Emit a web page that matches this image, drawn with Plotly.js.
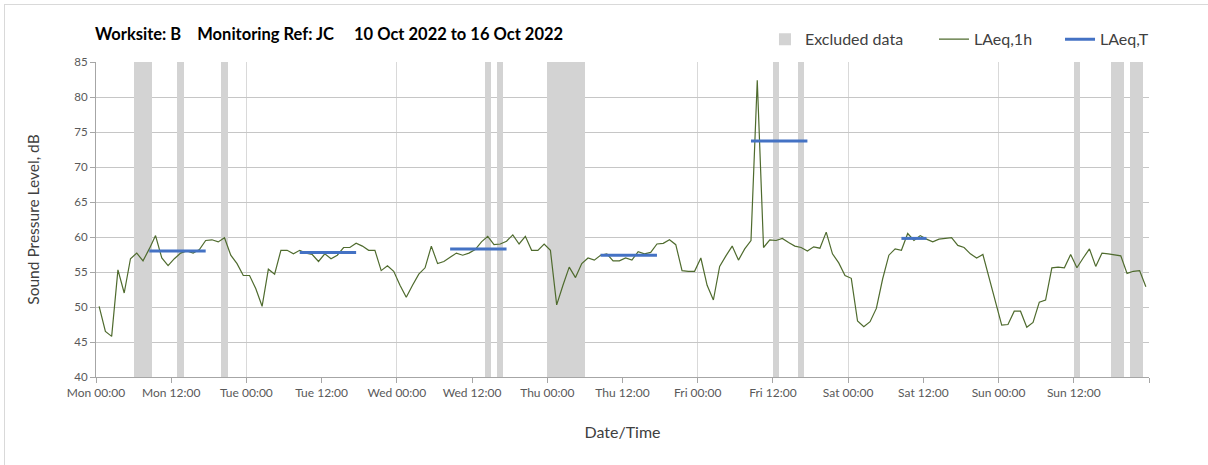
<!DOCTYPE html>
<html>
<head>
<meta charset="utf-8">
<script src="https://cdn.plot.ly/plotly-3.0.1.min.js"></script>
<style>
  html, body { margin: 0; padding: 0; background: #ffffff; }
  #chart { width: 1208px; height: 465px; position: absolute; left: 0; top: 0; }
  #frame { position: absolute; left: 4px; top: 4px; width: 1220px; height: 480px;
           border: 1px solid #d9d9d9; pointer-events: none; }
</style>
</head>
<body>
<div id="chart"></div>
<div id="frame"></div>
<script>
// ---------------- DATA ----------------
const startDate = '2022-10-10 00:00';
const endDate   = '2022-10-17 00:00';

// Hourly LAeq,1h values (Mon 00:00 hour .. Sun 23:00 hour), dB
const laeq1h = [
  50.1, 46.5, 45.8, 55.3, 52.0, 56.9, 57.7, 56.6, 58.3, 60.2,
  57.0, 55.9, 56.9, 57.7, 58.0, 57.7, 58.2, 59.5, 59.6, 59.3,
  59.9, 57.4, 56.2, 54.5, 54.5, 52.6, 50.1, 55.4, 54.7, 58.1,
  58.1, 57.6, 58.1, 57.7, 57.5, 56.5, 57.6, 56.9, 57.4, 58.5,
  58.5, 59.1, 58.7, 58.1, 58.1, 55.2, 55.9, 55.1, 53.1, 51.4,
  53.1, 54.7, 55.6, 58.7, 56.2, 56.5, 57.1, 57.7, 57.4, 57.7,
  58.2, 59.3, 60.1, 58.9, 59.0, 59.4, 60.3, 59.0, 60.1, 58.1,
  58.1, 59.0, 58.1, 50.3, 53.1, 55.7, 54.2, 56.2, 57.0, 56.7,
  57.4, 57.6, 56.6, 56.6, 57.0, 56.7, 57.9, 57.6, 57.8, 59.0,
  59.1, 59.6, 58.9, 55.2, 55.1, 55.1, 57.0, 53.1, 51.0, 55.8,
  57.3, 58.7, 56.7, 58.3, 59.5, 82.4, 58.5, 59.6, 59.5, 59.8,
  59.2, 58.7, 58.5, 58.0, 58.6, 58.4, 60.7, 57.6, 56.3, 54.5,
  54.1, 48.0, 47.2, 47.9, 49.8, 54.0, 57.4, 58.3, 58.1, 60.5,
  59.5, 60.2, 59.7, 59.3, 59.7, 59.8, 59.9, 58.8, 58.5, 57.6,
  57.0, 57.5, 54.0, 50.7, 47.4, 47.5, 49.4, 49.4, 47.1, 47.8,
  50.7, 51.0, 55.6, 55.7, 55.6, 57.5, 55.6, 57.0, 58.3, 55.8,
  57.7, 57.6, 57.5, 57.3, 54.8, 55.1, 55.2, 52.9
];

// LAeq,T periods (drawn across the hourly points of each period)
const periodStart = ['2022-10-10 08:30', '2022-10-11 08:30', '2022-10-12 08:30',
                     '2022-10-13 08:30', '2022-10-14 08:30', '2022-10-15 08:30'];
const periodEnd   = ['2022-10-10 17:30', '2022-10-11 17:30', '2022-10-12 17:30',
                     '2022-10-13 17:30', '2022-10-14 17:30', '2022-10-15 12:30'];
const laeqT       = [58.0, 57.8, 58.3, 57.4, 73.7, 59.8];

// Excluded data periods
const excludedStart = ['2022-10-10 06:00', '2022-10-10 13:00', '2022-10-10 20:00',
                       '2022-10-12 14:00', '2022-10-12 16:00', '2022-10-13 00:00',
                       '2022-10-14 12:00', '2022-10-14 16:00', '2022-10-16 12:00',
                       '2022-10-16 18:00', '2022-10-16 21:00'];
const excludedEnd   = ['2022-10-10 09:00', '2022-10-10 14:00', '2022-10-10 21:00',
                       '2022-10-12 15:00', '2022-10-12 17:00', '2022-10-13 06:00',
                       '2022-10-14 13:00', '2022-10-14 17:00', '2022-10-16 13:00',
                       '2022-10-16 20:00', '2022-10-16 23:00'];

// X tick labels every 12 hours (last tick at the axis end has no label)
const xTickLabels = ['Mon 00:00', 'Mon 12:00', 'Tue 00:00', 'Tue 12:00', 'Wed 00:00',
                     'Wed 12:00', 'Thu 00:00', 'Thu 12:00', 'Fri 00:00', 'Fri 12:00',
                     'Sat 00:00', 'Sat 12:00', 'Sun 00:00', 'Sun 12:00', ''];

const yMin = 40, yMax = 85;

// ---------------- BUILD ----------------
const HOUR = 3600000;
const toMs = s => Date.parse(s.replace(' ', 'T') + ':00Z');
const t0 = toMs(startDate), t1 = toMs(endDate);

const hourX = laeq1h.map((_, i) => t0 + (i + 0.5) * HOUR);

const exX = [], exW = [], exY = [];
excludedStart.forEach((s, i) => {
  const a = toMs(s), b = toMs(excludedEnd[i]);
  exX.push((a + b) / 2); exW.push(b - a); exY.push(yMax - yMin);
});

const tX = [], tY = [];
periodStart.forEach((s, i) => {
  tX.push(toMs(s), toMs(periodEnd[i]), null);
  tY.push(laeqT[i], laeqT[i], null);
});

const tickVals = xTickLabels.map((_, i) => t0 + i * 12 * HOUR);

const FONT = 'Lato, "Open Sans", sans-serif';
const legendFont = { family: FONT, size: 16, color: '#404040' };

const traces = [
  {
    type: 'bar', name: 'Excluded data', x: exX, y: exY, width: exW, base: yMin,
    marker: { color: '#d3d3d3', line: { width: 0 } },
    xaxis: 'x', yaxis: 'y', hoverinfo: 'skip', legend: 'legend'
  },
  {
    type: 'scatter', mode: 'lines', name: 'LAeq,1h', x: hourX, y: laeq1h,
    line: { color: '#4f6b2e', width: 1.2 },
    xaxis: 'x', yaxis: 'y', legend: 'legend2'
  },
  {
    type: 'scatter', mode: 'lines', name: 'LAeq,T', x: tX, y: tY,
    line: { color: '#4472c4', width: 3 }, connectgaps: false,
    xaxis: 'x2', yaxis: 'y', legend: 'legend3'
  }
];

const legBase = { orientation: 'h', xanchor: 'left', y: 1.072, yanchor: 'middle',
                  font: legendFont, bgcolor: 'rgba(0,0,0,0)' };

const layout = {
  width: 1208, height: 465,
  margin: { l: 96, r: 59, t: 62, b: 88 },
  paper_bgcolor: 'rgba(0,0,0,0)', plot_bgcolor: '#ffffff',
  font: { family: FONT, color: '#404040' },
  title: {
    text: 'Worksite: B\u00a0\u00a0\u00a0\u00a0Monitoring Ref: JC\u00a0\u00a0\u00a0\u00a0\u00a010 Oct 2022 to 16 Oct 2022',
    font: { family: FONT, size: 16.5, color: '#000000', weight: 'bold' },
    x: 95 / 1208, xref: 'container', xanchor: 'left',
    y: 1 - 34 / 465, yref: 'container', yanchor: 'middle'
  },
  bargap: 0,
  showlegend: true,
  legend:  Object.assign({}, legBase, { x: 0.6353 }),
  legend2: Object.assign({}, legBase, { x: 0.7958 }),
  legend3: Object.assign({}, legBase, { x: 0.9155 }),
  xaxis: {
    type: 'date', range: [t0, t1], fixedrange: true,
    tick0: t0, dtick: 24 * HOUR, tickmode: 'linear',
    showgrid: true, gridcolor: '#d9d9d9', gridwidth: 1,
    showticklabels: false, ticks: '', zeroline: false,
    showline: true, linecolor: '#a6a6a6', linewidth: 1
  },
  xaxis2: {
    type: 'date', overlaying: 'x', side: 'bottom', anchor: 'y',
    range: [t0, t1], fixedrange: true,
    tickmode: 'array', tickvals: tickVals, ticktext: xTickLabels,
    ticks: 'outside', ticklen: 5, tickcolor: '#a6a6a6', tickwidth: 1,
    showgrid: false, zeroline: false, showline: false,
    tickfont: { family: FONT, size: 12, color: '#595959' },
    title: { text: 'Date/Time', font: { family: FONT, size: 16, color: '#404040' }, standoff: 27 }
  },
  yaxis: {
    range: [yMin, yMax], dtick: 5, tick0: 40, fixedrange: true,
    showgrid: true, gridcolor: '#c6c6c6', gridwidth: 1,
    ticks: 'outside', ticklen: 5, tickcolor: '#a6a6a6',
    showline: true, linecolor: '#a6a6a6', linewidth: 1, zeroline: false,
    tickfont: { family: FONT, size: 11.5, color: '#595959' },
    title: { text: 'Sound Pressure Level, dB', font: { family: FONT, size: 15.5, color: '#404040' }, standoff: 30 }
  }
};

Plotly.newPlot('chart', traces, layout, { displayModeBar: false, staticPlot: true });
</script>
</body>
</html>
